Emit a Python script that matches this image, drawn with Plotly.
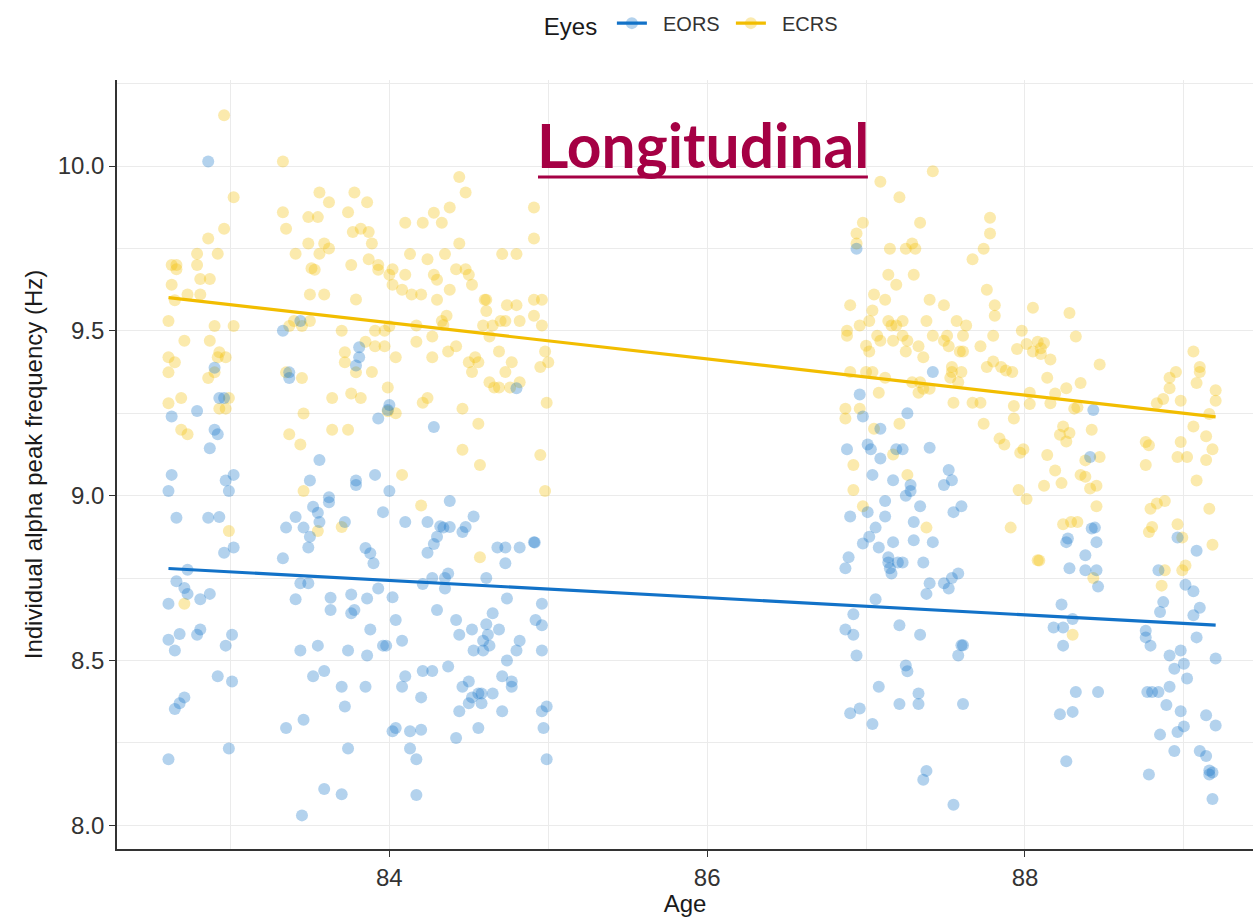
import plotly.graph_objects as go

# ---- individual alpha peak frequency (Hz) by age, eyes-open resting state ----
eors_age = [
    82.86, 83.44, 83.33, 82.90, 83.37, 83.37, 82.93, 82.96, 82.79, 82.63, 82.90, 82.92, 82.87, 83.56,
    83.81, 83.81, 83.79, 84.00, 83.99, 83.93, 84.28, 84.80,
    82.63, 82.61, 82.97, 83.02, 82.99, 82.66, 82.86, 82.93, 83.02, 82.96, 82.73, 82.66, 82.71, 82.73,
    82.61, 82.81, 82.87, 82.61, 82.68, 82.65, 82.79, 82.81, 83.01, 82.97, 82.92, 83.01, 82.65, 82.68,
    82.71, 82.61, 82.99, 83.33, 83.41, 83.46, 83.35, 83.50, 83.49, 83.52, 83.55, 83.56, 83.62, 83.62,
    83.50, 83.72, 83.79, 83.79, 83.44, 83.49, 83.41, 83.63, 83.63, 83.76, 83.76, 83.78, 83.44, 83.55,
    83.74, 83.52, 83.59, 83.70, 83.72, 83.35, 83.46, 83.74, 83.59, 83.70, 83.45,
    83.91, 84.00, 83.96, 84.10, 84.24, 84.38, 84.32, 84.34, 84.38, 84.48, 84.46, 84.53, 84.30, 84.28,
    84.24, 83.85, 83.88, 83.90, 84.68, 84.73, 84.82, 84.91, 84.915, 84.73, 84.61, 84.27, 84.21, 84.37,
    84.35, 84.35, 83.93, 83.86, 84.02, 84.74, 84.96, 84.30, 84.04, 84.65, 84.42, 83.88, 84.08, 83.96,
    83.98, 83.86, 84.44, 84.52, 84.61, 84.69, 84.62, 84.59, 84.63, 84.53, 84.59, 84.82, 84.80, 84.92,
    84.96, 84.96, 84.74, 83.85, 84.08, 84.10, 84.21, 84.27, 84.37, 84.20, 84.46, 84.50, 84.52, 84.56,
    84.58, 84.58, 84.50, 84.65, 84.71, 84.77, 84.77, 84.44, 84.71, 84.96, 84.99, 84.97, 84.02, 84.04,
    84.13, 84.20, 84.42, 84.56, 84.13, 84.17, 84.99, 84.17,
    86.94, 87.42, 86.96, 86.98, 87.26, 87.09, 87.01, 87.03, 86.88, 87.19, 87.23, 87.40, 87.09, 87.04,
    87.17, 87.28, 87.52, 87.54, 87.49,
    87.25, 87.28, 87.12, 87.34, 86.90, 87.01, 87.12, 87.60, 87.55, 87.30, 87.06, 87.02, 86.98, 87.08,
    87.17, 87.30, 87.42, 86.89, 86.87, 87.14, 87.14, 87.15, 87.16, 87.20, 87.23, 87.36, 87.40, 87.38,
    87.49, 87.52, 87.54, 87.58, 87.06, 86.92, 86.87, 86.92, 86.94, 87.21, 87.34, 87.58, 87.60, 87.61,
    87.25, 87.26, 87.08, 87.33, 87.21, 87.33, 87.61, 86.96, 86.90, 87.04, 87.38, 87.36, 87.55,
    88.43, 88.41, 88.42, 88.44, 88.27, 88.26, 88.45, 88.38, 88.28, 88.38, 88.45, 88.96, 89.08, 88.84,
    88.46, 88.23, 88.30, 88.18, 88.24, 88.24, 88.32, 88.46, 88.22, 88.30, 88.26,
    89.01, 89.06, 89.10, 88.87, 88.85, 89.06, 89.08, 88.76, 88.76, 88.79, 88.91, 88.98, 89.00, 88.94,
    89.02, 89.20, 88.77, 88.80, 88.84, 88.91, 88.89, 88.98, 89.00, 88.96, 88.85, 89.14, 89.20, 88.94,
    89.10, 89.14, 89.16, 89.16, 89.18, 88.78, 89.18,
]
eors_iapf = [
    10.014, 9.53, 9.50, 9.388, 9.374, 9.357, 9.296, 9.296, 9.257, 9.24, 9.20, 9.186, 9.144, 9.108,
    9.45, 9.42, 9.395, 9.275, 9.26, 9.234, 9.208, 9.326,
    9.063, 9.014, 9.046, 9.063, 9.014, 8.933, 8.933, 8.935, 8.843, 8.827, 8.775, 8.74, 8.72, 8.702,
    8.672, 8.686, 8.702, 8.563, 8.58, 8.53, 8.578, 8.594, 8.578, 8.545, 8.452, 8.436, 8.353, 8.37,
    8.388, 8.20, 8.233, 8.81, 8.935, 8.903, 8.903, 8.875, 8.843, 8.966, 8.948, 8.92, 8.995, 8.98,
    9.046, 8.92, 9.046, 9.032, 8.734, 8.734, 8.686, 8.69, 8.653, 8.70, 8.643, 8.653, 8.53, 8.545,
    8.53, 8.452, 8.468, 8.42, 8.36, 8.295, 8.32, 8.233, 8.11, 8.094, 8.03,
    9.063, 9.014, 8.95, 8.92, 8.92, 8.984, 8.907, 8.903, 8.905, 8.905, 8.89, 8.937, 8.875, 8.853,
    8.827, 8.841, 8.825, 8.795, 8.843, 8.843, 8.843, 8.859, 8.858, 8.795, 8.75, 8.75, 8.732, 8.764,
    8.75, 8.718, 8.718, 8.688, 8.692, 8.688, 8.672, 8.653, 8.623, 8.643, 8.623, 8.594, 8.56, 8.545,
    8.545, 8.515, 8.578, 8.594, 8.61, 8.594, 8.578, 8.56, 8.545, 8.53, 8.53, 8.56, 8.53, 8.623,
    8.607, 8.53, 8.50, 8.42, 8.42, 8.452, 8.468, 8.468, 8.482, 8.388, 8.42, 8.436, 8.388, 8.40,
    8.40, 8.37, 8.37, 8.40, 8.452, 8.436, 8.42, 8.346, 8.346, 8.346, 8.36, 8.295, 8.285, 8.295,
    8.285, 8.29, 8.265, 8.295, 8.233, 8.20, 8.20, 8.092,
    9.749, 9.375, 9.307, 9.24, 9.25, 9.203, 9.155, 9.141, 9.141, 9.141, 9.141, 9.145, 9.113, 9.063,
    9.047, 9.032, 9.078, 9.047, 9.032,
    9.00, 9.014, 8.984, 8.968, 8.937, 8.95, 8.937, 8.968, 8.95, 8.92, 8.903, 8.875, 8.855, 8.843,
    8.859, 8.865, 8.859, 8.813, 8.78, 8.813, 8.797, 8.78, 8.764, 8.797, 8.797, 8.797, 8.734, 8.702,
    8.734, 8.718, 8.75, 8.764, 8.686, 8.64, 8.594, 8.578, 8.515, 8.607, 8.578, 8.515, 8.546, 8.546,
    8.485, 8.467, 8.42, 8.40, 8.368, 8.368, 8.368, 8.354, 8.34, 8.307, 8.165, 8.138, 8.062,
    9.26, 9.117, 8.90, 8.903, 8.87, 8.859, 8.859, 8.819, 8.78, 8.774, 8.774, 8.873, 8.833, 8.774,
    8.724, 8.67, 8.626, 8.60, 8.60, 8.545, 8.404, 8.404, 8.337, 8.344, 8.194,
    8.73, 8.71, 8.66, 8.677, 8.647, 8.637, 8.57, 8.59, 8.57, 8.545, 8.515, 8.53, 8.49, 8.475,
    8.445, 8.506, 8.404, 8.404, 8.404, 8.42, 8.365, 8.346, 8.30, 8.283, 8.275, 8.334, 8.303, 8.225,
    8.225, 8.21, 8.166, 8.154, 8.16, 8.154, 8.08,
]

# ---- eyes-closed resting state ----
ecrs_age = [
    82.96, 83.33, 83.02, 83.56, 83.78, 83.62, 83.33, 83.49, 83.55, 83.74, 83.35, 82.96, 83.77, 82.86,
    83.49, 83.59, 83.62, 82.79, 82.92, 83.56, 83.41, 82.63, 82.66, 82.66, 82.79, 83.51, 83.53, 83.76,
    82.63, 82.81, 82.87, 82.73, 82.81, 82.65, 83.50, 83.59, 83.79, 82.61, 82.90, 83.02, 83.40, 83.50,
    83.45, 83.37, 83.70, 82.71, 82.87, 82.93, 82.61, 82.92, 82.97, 82.65, 83.72, 83.72, 82.61, 82.90,
    82.86, 83.35, 83.45, 83.79, 82.61, 82.69, 82.99, 82.93, 82.97, 83.64, 83.76, 83.46, 82.69, 82.73,
    83.37, 83.44, 83.64, 83.74, 82.99, 82.71, 83.46, 83.55, 83.70,
    84.44, 84.48, 84.91, 83.86, 84.28, 84.38, 84.10, 84.21, 84.33, 83.82, 83.87, 83.89, 84.44, 84.91,
    84.13, 84.35, 84.71, 84.80, 83.87, 84.24, 83.93, 83.93, 84.02, 84.00, 84.10, 84.28, 84.30, 84.42,
    84.48, 84.50, 84.52, 84.02, 84.08, 84.14, 84.20, 84.38, 84.30, 84.60, 84.61, 84.61, 84.74, 84.80,
    84.91, 84.96, 84.91, 84.36, 84.33, 84.34, 84.59, 84.65, 84.70, 84.73, 84.82, 84.96, 84.17, 83.91,
    83.97, 84.00, 84.27, 84.63, 83.85, 84.17, 83.91, 83.97, 84.42, 84.04, 84.27, 84.37, 84.69, 84.98,
    84.50, 84.54, 84.56, 84.77, 85.00, 84.95, 84.52, 84.73, 83.89, 84.63, 84.66, 84.69, 84.76, 84.82,
    83.99, 83.82, 84.21, 84.24, 84.99, 83.99, 84.04, 84.46, 84.56, 84.46, 84.57, 84.95, 84.08, 84.98,
    84.20, 84.57,
    87.42, 87.09, 87.21, 86.98, 87.34, 87.78, 87.78, 86.94, 86.94, 87.15, 87.25, 87.29, 87.31, 87.74,
    87.67, 87.14, 87.30, 87.19, 87.76, 87.05, 87.12, 87.40, 86.90, 87.49, 87.81, 88.05, 87.81, 87.04,
    87.02, 87.14, 87.23, 87.38, 87.57, 86.96, 87.16, 87.19, 87.63, 86.88, 86.88, 87.98, 87.07, 87.23,
    87.42, 87.51, 87.61, 87.80, 87.09, 87.17, 87.26, 87.49, 87.00, 87.33, 87.52, 87.72, 88.01, 87.02,
    87.25, 87.59, 87.61, 87.95, 88.05, 87.36, 87.80, 87.76, 87.85, 87.88, 87.92, 87.54, 87.54, 87.60,
    87.53, 86.90, 87.00, 87.04, 87.12, 87.29, 87.34, 87.58, 87.40, 87.36, 87.33, 87.08, 88.03, 88.03,
    87.55, 87.67, 87.72, 87.93, 86.87, 86.96, 86.87, 87.93, 87.21, 87.74, 87.05, 87.84, 87.87, 87.99,
    87.97, 87.17, 86.92, 87.26, 86.92, 87.96, 86.98, 87.38, 88.01, 87.91, 88.08,
    88.28, 88.32, 88.08, 88.12, 88.10, 88.10, 88.16, 88.47, 88.14, 88.35, 88.26, 88.19, 88.16, 88.33,
    88.31, 89.06, 89.10, 89.10, 89.08, 88.95, 88.91, 88.91, 88.87, 88.83, 88.98, 89.20, 89.20, 89.16,
    89.06, 89.14, 89.18, 89.14, 89.08, 88.98, 88.96, 89.02, 88.76, 88.78, 88.76, 88.42, 88.24, 88.22,
    88.28, 88.26, 88.14, 88.19, 88.12, 88.23, 88.38, 88.47, 88.35, 88.38, 88.41, 88.45, 88.45, 88.24,
    88.29, 88.33, 88.09, 88.43, 88.79, 88.83, 88.88, 89.16, 88.96, 88.78, 88.80, 88.99, 89.18, 88.88,
    88.99, 89.01, 88.30, 88.86,
]
ecrs_iapf = [
    10.154, 10.014, 9.905, 9.92, 9.92, 9.89, 9.86, 9.845, 9.845, 9.86, 9.81, 9.81, 9.80, 9.78,
    9.765, 9.765, 9.75, 9.734, 9.734, 9.734, 9.734, 9.70, 9.70, 9.687, 9.70, 9.69, 9.685, 9.70,
    9.64, 9.657, 9.657, 9.61, 9.61, 9.593, 9.61, 9.61, 9.595, 9.53, 9.515, 9.515, 9.53, 9.53,
    9.515, 9.515, 9.50, 9.47, 9.47, 9.435, 9.42, 9.42, 9.42, 9.405, 9.435, 9.405, 9.374, 9.374,
    9.357, 9.374, 9.357, 9.374, 9.28, 9.296, 9.296, 9.264, 9.264, 9.296, 9.31, 9.249, 9.20, 9.186,
    9.186, 9.155, 9.20, 9.20, 8.893, 8.672, 9.014, 8.893, 8.905,
    9.967, 9.92, 9.874, 9.89, 9.858, 9.874, 9.828, 9.828, 9.828, 9.81, 9.80, 9.765, 9.765, 9.78,
    9.733, 9.733, 9.733, 9.733, 9.717, 9.717, 9.70, 9.685, 9.687, 9.67, 9.67, 9.67, 9.655, 9.687,
    9.687, 9.67, 9.64, 9.64, 9.625, 9.61, 9.61, 9.625, 9.594, 9.594, 9.594, 9.56, 9.578, 9.578,
    9.594, 9.594, 9.546, 9.546, 9.53, 9.518, 9.516, 9.516, 9.53, 9.53, 9.53, 9.516, 9.516, 9.50,
    9.50, 9.514, 9.483, 9.483, 9.467, 9.467, 9.453, 9.453, 9.453, 9.42, 9.42, 9.437, 9.437, 9.437,
    9.405, 9.42, 9.405, 9.405, 9.405, 9.39, 9.375, 9.375, 9.375, 9.344, 9.328, 9.328, 9.328, 9.344,
    9.328, 9.296, 9.282, 9.296, 9.282, 9.256, 9.25, 9.264, 9.218, 9.139, 9.093, 9.123, 9.063, 9.014,
    8.97, 8.813,
    9.984, 9.952, 9.905, 9.828, 9.828, 9.843, 9.795, 9.795, 9.765, 9.749, 9.749, 9.765, 9.749, 9.749,
    9.717, 9.67, 9.67, 9.64, 9.625, 9.61, 9.594, 9.594, 9.578, 9.578, 9.578, 9.57, 9.546, 9.562,
    9.53, 9.53, 9.53, 9.53, 9.53, 9.516, 9.516, 9.516, 9.516, 9.50, 9.485, 9.50, 9.485, 9.485,
    9.485, 9.485, 9.485, 9.485, 9.47, 9.47, 9.47, 9.47, 9.455, 9.453, 9.453, 9.453, 9.46, 9.437,
    9.437, 9.437, 9.437, 9.445, 9.437, 9.42, 9.407, 9.39, 9.39, 9.38, 9.375, 9.39, 9.375, 9.375,
    9.358, 9.375, 9.375, 9.375, 9.358, 9.344, 9.344, 9.344, 9.324, 9.324, 9.312, 9.312, 9.312, 9.278,
    9.282, 9.282, 9.282, 9.272, 9.264, 9.264, 9.234, 9.234, 9.218, 9.218, 9.203, 9.173, 9.155, 9.141,
    9.13, 9.125, 9.093, 9.063, 9.017, 9.017, 8.968, 8.903, 8.99, 8.903, 8.804,
    9.554, 9.483, 9.467, 9.463, 9.447, 9.43, 9.413, 9.398, 9.358, 9.342, 9.326, 9.31, 9.28, 9.268,
    9.264, 9.437, 9.39, 9.375, 9.342, 9.375, 9.358, 9.326, 9.293, 9.28, 9.288, 9.32, 9.288, 9.248,
    9.21, 9.18, 9.141, 9.108, 9.046, 9.163, 9.117, 9.117, 9.163, 9.153, 9.093, 9.20, 9.21, 9.185,
    9.19, 9.164, 9.123, 9.076, 9.03, 9.038, 9.107, 9.117, 9.063, 9.057, 9.022, 9.03, 8.968, 8.913,
    8.92, 8.92, 8.803, 8.75, 8.96, 8.976, 8.984, 8.96, 8.913, 8.89, 8.905, 8.873, 8.851, 8.774,
    8.774, 8.788, 8.578, 8.727,
]

# ---- linear trend per condition (endpoints of fitted line) ----
fit_age = [82.61, 89.20]
eors_fit = [8.779, 8.607]
ecrs_fit = [9.601, 9.239]

series_names = ["EORS", "ECRS"]
line_colors = {"EORS": "#1272C8", "ECRS": "#F2BD00"}
point_colors = {"EORS": "rgba(18,114,200,0.32)", "ECRS": "rgba(242,189,0,0.32)"}

x_ticks = [84, 86, 88]
y_ticks = [8.0, 8.5, 9.0, 9.5, 10.0]

fig = go.Figure()

# raw observations
for name, ages, vals in [("ECRS", ecrs_age, ecrs_iapf), ("EORS", eors_age, eors_iapf)]:
    fig.add_trace(go.Scatter(
        x=ages, y=vals, mode="markers", showlegend=False, hoverinfo="skip",
        marker=dict(size=12, color=point_colors[name], line=dict(width=0)),
    ))

# fitted lines
for name, vals in [("EORS", eors_fit), ("ECRS", ecrs_fit)]:
    fig.add_trace(go.Scatter(
        x=fit_age, y=vals, mode="lines", showlegend=False,
        line=dict(color=line_colors[name], width=3.2),
    ))

# legend keys (line with faded point); non-breaking spaces widen the key-to-label gap
for name in series_names:
    fig.add_trace(go.Scatter(
        x=[None], y=[None], mode="lines+markers", name="\u00a0\u00a0" + name,
        line=dict(color=line_colors[name], width=3.2),
        marker=dict(size=12, color=point_colors[name]),
    ))

font_family = "Liberation Sans, Arial, sans-serif"
grid_col = "#EBEBEB"

fig.update_layout(
    width=1257, height=917, autosize=False,
    margin=dict(l=117, r=4, t=77, b=68),
    paper_bgcolor="white", plot_bgcolor="white",
    font=dict(family=font_family, color="#1A1A1A"),
    showlegend=True,
    legend=dict(
        orientation="h", x=0.510, xanchor="center", y=1.072, yanchor="middle",
        entrywidth=74, entrywidthmode="pixels",
        title=dict(text="Eyes ", font=dict(size=24, color="#1A1A1A")),
        font=dict(size=20, color="#333333"),
        bgcolor="rgba(0,0,0,0)",
    ),
    xaxis=dict(
        range=[82.286, 89.435], tickvals=x_ticks, ticktext=[str(v) for v in x_ticks],
        showgrid=True, gridcolor=grid_col, gridwidth=1.4,
        minor=dict(tickvals=[83, 85, 87, 89], showgrid=True, gridcolor=grid_col, gridwidth=0.8),
        showline=True, linecolor="#333333", linewidth=1.6,
        ticks="outside", ticklen=6, tickwidth=1.4, tickcolor="#333333",
        tickfont=dict(size=24, color="#333333"), zeroline=False,
        title=dict(text="Age", font=dict(size=24, color="#1A1A1A"), standoff=6),
    ),
    yaxis=dict(
        range=[7.928, 10.261], tickvals=y_ticks, ticktext=[f"{v:.1f}" for v in y_ticks],
        showgrid=True, gridcolor=grid_col, gridwidth=1.4,
        minor=dict(tickvals=[8.25, 8.75, 9.25, 9.75, 10.25], showgrid=True, gridcolor=grid_col, gridwidth=0.8),
        showline=True, linecolor="#333333", linewidth=1.6,
        ticks="outside", ticklen=6, tickwidth=1.4, tickcolor="#333333",
        tickfont=dict(size=24, color="#333333"), zeroline=False,
        title=dict(text="Individual alpha peak frequency (Hz)", font=dict(size=24, color="#1A1A1A"), standoff=8),
    ),
)

# heading inside the panel, underlined
title_color = "#A50044"
fig.add_annotation(
    text="<b>Longitudinal</b>", xref="paper", yref="paper", x=0.516, y=0.916,
    xanchor="center", yanchor="middle", showarrow=False,
    font=dict(family="Lato, sans-serif", size=60.5, color=title_color),
)
fig.add_shape(
    type="line", xref="paper", yref="paper", x0=0.3706, x1=0.661, y0=0.874, y1=0.874,
    line=dict(color=title_color, width=3),
)

fig.write_html("out.html")
